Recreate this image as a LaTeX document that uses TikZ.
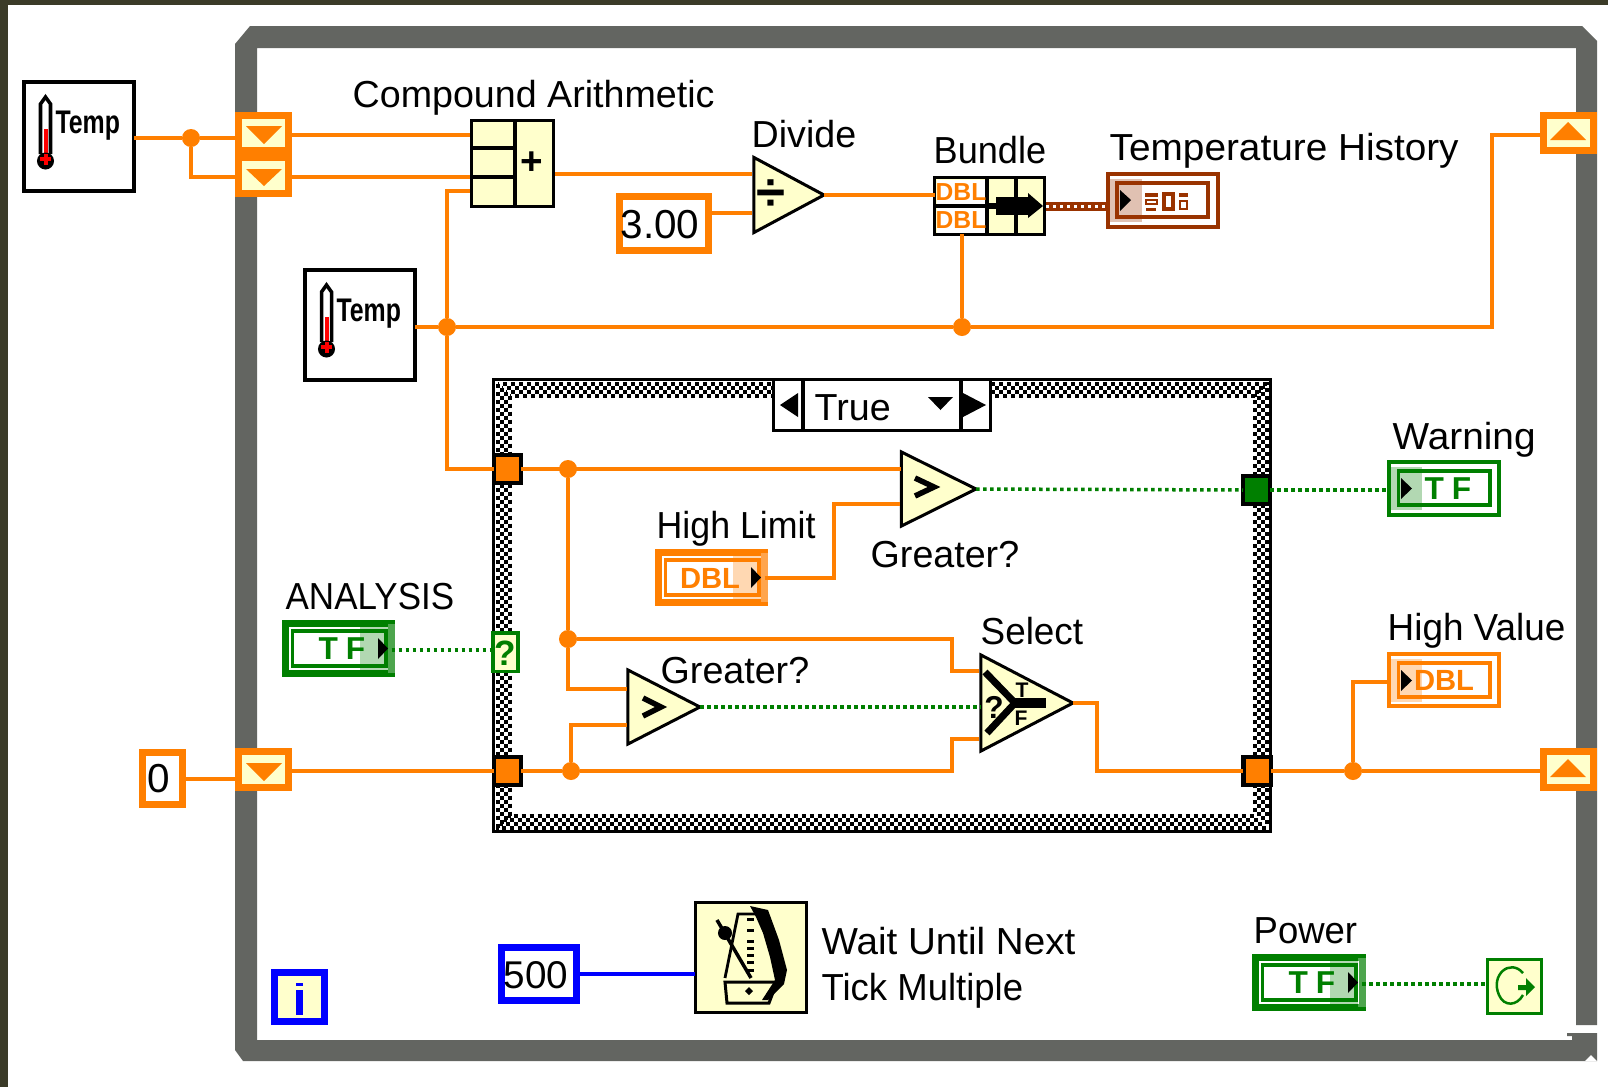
\documentclass[tikz,border=0pt]{standalone}
\usepackage{fontspec}
\setmainfont{Liberation Sans}
\usetikzlibrary{shapes.geometric}
\definecolor{lvorange}{rgb}{1.0, 0.498, 0}
\definecolor{lvgreen}{rgb}{0, 0.498, 0}
\definecolor{lvblue}{rgb}{0, 0, 1.0}
\definecolor{lvcream}{rgb}{1.0, 1.0, 0.8}
\definecolor{lvbrown}{rgb}{0.6, 0.2, 0}
\definecolor{lvframe}{rgb}{0.388, 0.396, 0.380}
\definecolor{lvolive}{rgb}{0.231, 0.231, 0.157}
\tikzset{wire/.style={line width=.04cm, color=lvorange}}
\tikzset{boolwire/.style={line width=.035cm, color=lvgreen, dash pattern=on .035cm off .035cm}}
\tikzset{blockbox/.style={draw, line width=.035cm, fill=lvcream, inner sep=0pt, outer sep=0pt}}
\tikzset{whitebox/.style={draw, line width=.04cm, fill=white, inner sep=0pt, outer sep=0pt}}
\tikzset{thickbox/.style={draw, line width=.07cm, fill=white, inner sep=0pt, outer sep=0pt}}
\tikzset{regbox/.style={draw=lvorange, line width=.07cm, fill=lvcream, inner sep=0pt, outer sep=0pt}}
\tikzset{tunnel/.style={draw, line width=.04cm, fill=lvorange, inner sep=0pt, outer sep=0pt, minimum width=.27cm, minimum height=.28cm}}
\tikzset{junction/.style={circle, fill=lvorange, inner sep=0pt, outer sep=0pt, minimum size=.18cm}}
\tikzset{prim/.style={isosceles triangle, isosceles triangle stretches, draw, line width=.03cm, fill=lvcream, inner sep=0pt, outer sep=0pt, anchor=apex}}
\tikzset{inrect/.style={line width=.035cm}}
\tikzset{checker/.style={line width=.04cm, dash pattern=on .04cm off .04cm}}
\tikzset{lbl/.style={anchor=base west, inner sep=0pt, transform shape, font=\fontsize{10.7}{12}\selectfont}}
\tikzset{templbl/.style={anchor=base west, inner sep=0pt, xscale=.76, transform shape, font=\bfseries\fontsize{9.3}{11}\selectfont}}
\tikzset{tagtext/.style={inner sep=0pt, font=\bfseries\fontsize{8.3}{10}\selectfont}}

\begin{document}
\begin{tikzpicture}[x=0.01cm, y=-0.01cm]%{{{
        \useasboundingbox (0, 0) rectangle (1608, 1087);
        \fill[white] (0, 0) rectangle (1608, 1087);
        \fill[lvolive] (0, 0) rectangle (1608, 5);
        \fill[lvolive] (0, 0) rectangle (8, 1087);

        % while loop frame
        \fill[lvframe] (250, 26) -- (1582, 26) -- (1597, 41) -- (1597, 1025) -- (1576, 1025) -- (1576, 48)
            -- (257, 48) -- (257, 1040) -- (1572, 1040) -- (1572, 1036) -- (1567, 1036) -- (1567, 1033) -- (1597, 1033)
            -- (1597, 1061) -- (243, 1061) -- (235, 1050) -- (235, 44) -- cycle;
        \fill[white] (1585, 1061) -- (1591, 1055) -- (1597, 1061) -- cycle;

        % case structure
        \draw[checker] (497.5, 383.5) rectangle (1266.5, 827.5);
        \draw[checker] (501.5, 387.5) rectangle (1262.5, 823.5);
        \draw[checker] (505.5, 391.5) rectangle (1258.5, 819.5);
        \draw[checker] (509.5, 395.5) rectangle (1254.5, 815.5);
        \node[draw, line width=.035cm, inner sep=0pt, outer sep=0pt, minimum width=7.765cm, minimum height=4.515cm] (Case) at (882, 605.5) {};
        \node[whitebox, line width=.035cm, minimum width=2.165cm, minimum height=.505cm] (Sel) at (882, 405) {};
        \draw[line width=.035cm] (803, 378) -- (803, 432);
        \draw[line width=.035cm] (961, 378) -- (961, 432);
        \fill (780, 405) -- (798, 393) -- (798, 417) -- cycle;
        \fill (986, 405) -- (963, 393) -- (963, 417) -- cycle;
        \fill (928, 397) -- (953, 397) -- (940.5, 410) -- cycle;
        \node[lbl] (TrueL) at (814, 420) {True};

        % wire ports and bends
        \coordinate (Pa) at (470, 135);
        \coordinate (Pb) at (470, 177);
        \coordinate (Pc) at (470, 191);
        \coordinate (Pd) at (555, 174);
        \coordinate (Pe) at (752, 174);
        \coordinate (Pf) at (752, 213);
        \coordinate (Qa) at (1492, 327);
        \coordinate (Qb) at (1492, 135);
        \coordinate (Ra) at (834, 504);
        \coordinate (Rb) at (900, 504);
        \coordinate (Rc) at (568, 689);
        \coordinate (Rd) at (626.6, 689);
        \coordinate (Re) at (626.6, 725);
        \coordinate (Rf) at (571, 725);
        \coordinate (Ua) at (951.5, 639);
        \coordinate (Ub) at (951.5, 671);
        \coordinate (Uc) at (979, 671);
        \coordinate (Ud) at (951.5, 771);
        \coordinate (Ue) at (951.5, 739);
        \coordinate (Uf) at (979, 739);
        \coordinate (Ug) at (1097, 703);
        \coordinate (Uh) at (1097, 771);
        \coordinate (Va) at (1353, 682);
        \coordinate (Wa) at (1046, 206);
        \coordinate (Wb) at (1106, 206);
        \coordinate (Ya) at (395, 650);
        \coordinate (Yb) at (1366, 984);

        \node[junction] (Ja) at (191, 138) {};
        \node[junction] (Jb) at (447, 327) {};
        \node[junction] (Jc) at (962, 327) {};
        \node[junction] (Jd) at (568, 469) {};
        \node[junction] (Je) at (568, 639) {};
        \node[junction] (Jf) at (571, 771) {};
        \node[junction] (Jg) at (1353, 771) {};

        % terminals on the loop frame
        \node[regbox, minimum width=.50cm, minimum height=.35cm] (Sa) at (263.5, 133) {};
        \node[regbox, minimum width=.50cm, minimum height=.36cm] (Sb) at (263.5, 175.5) {};
        \node[regbox, minimum width=.50cm, minimum height=.36cm] (Sd) at (263.5, 769.5) {};
        \node[regbox, minimum width=.50cm, minimum height=.35cm] (Sc) at (1568.5, 133) {};
        \node[regbox, minimum width=.50cm, minimum height=.36cm] (Sf) at (1568.5, 769.5) {};
        \fill[lvorange] (246, 126) -- (282, 126) -- (264, 144) -- cycle;
        \fill[lvorange] (246, 169) -- (282, 169) -- (264, 186) -- cycle;
        \fill[lvorange] (246, 763) -- (282, 763) -- (264, 781) -- cycle;
        \fill[lvorange] (1550, 140) -- (1586, 140) -- (1568, 122) -- cycle;
        \fill[lvorange] (1550, 777) -- (1586, 777) -- (1568, 759) -- cycle;

        % temperature terminals
        \node[whitebox, minimum width=1.10cm, minimum height=1.09cm] (Ta) at (79, 136.5) {};
        \node[whitebox, minimum width=1.10cm, minimum height=1.10cm] (Tb) at (360, 325) {};
        \draw[line width=.035cm, fill=white] (40.5, 154) -- (40.5, 104) -- (45.5, 97) -- (50.5, 104) -- (50.5, 154);
        \fill[red] (43.5, 129) rectangle (48, 160);
        \fill (45.5, 161) circle (.085cm);
        \fill[red] (43.5, 154) rectangle (48, 165);
        \fill[red] (40, 157) rectangle (51, 161);
        \draw[line width=.035cm, fill=white] (321.5, 342) -- (321.5, 292) -- (326.5, 285) -- (331.5, 292) -- (331.5, 342);
        \fill[red] (324.5, 317) rectangle (329, 348);
        \fill (326.5, 349) circle (.085cm);
        \fill[red] (324.5, 342) rectangle (329, 353);
        \fill[red] (321, 345) rectangle (332, 349);
        \node[templbl] (TempA) at (55, 133) {Temp};
        \node[templbl] (TempB) at (336, 321) {Temp};

        % arithmetic blocks
        \node[blockbox, minimum width=.815cm, minimum height=.855cm] (Cmp) at (512.5, 163.5) {};
        \draw[line width=.035cm] (515, 119) -- (515, 208);
        \draw[line width=.035cm] (470, 148) -- (515, 148);
        \draw[line width=.035cm] (470, 177) -- (515, 177);
        \node[inner sep=0pt, font=\bfseries\fontsize{11}{12}\selectfont] (Pls) at (532, 163) {+};
        \node[prim, minimum width=.75cm, minimum height=.70cm] (Dv) at (824, 195) {};
        \node[inner sep=0pt, font=\bfseries\fontsize{15}{15}\selectfont] (DvS) at (771, 195) {÷};
        \node[thickbox, draw=lvorange, minimum width=.89cm, minimum height=.54cm] (Cth) at (664, 223.5) {};
        \node[inner sep=0pt, font=\fontsize{11.5}{12}\selectfont] (CthL) at (660, 225) {3.00};

        % bundle
        \node[blockbox, minimum width=1.095cm, minimum height=.565cm] (Bu) at (989.5, 206) {};
        \fill[white] (937, 180) rectangle (985, 204);
        \fill[white] (937, 208) rectangle (985, 232.5);
        \draw[line width=.035cm] (933, 206) -- (987, 206);
        \draw[line width=.035cm] (987, 176) -- (987, 236);
        \draw[line width=.035cm] (1016, 176) -- (1016, 236);
        \node[tagtext, text=lvorange, font=\bfseries\fontsize{7}{8}\selectfont] (BuA) at (961, 192) {DBL};
        \node[tagtext, text=lvorange, font=\bfseries\fontsize{7}{8}\selectfont] (BuB) at (961, 220) {DBL};
        \fill (986, 203) rectangle (996, 209);
        \fill (996, 197) rectangle (1028, 215);
        \fill (1028, 193) -- (1043, 206) -- (1028, 218) -- cycle;

        % temperature history
        \node[whitebox, draw=lvbrown, minimum width=1.10cm, minimum height=.53cm] (Th) at (1163, 200.5) {};
        \draw[inrect, draw=lvbrown] (1117, 183) rectangle (1208, 217);
        \fill[lvbrown, opacity=.3] (1106, 179) rectangle (1142, 222);
        \fill (1120, 190) -- (1131, 200) -- (1120, 211) -- cycle;
        \fill[lvbrown] (1145, 193) rectangle (1158, 197);
        \draw[line width=.025cm, lvbrown] (1146, 200) rectangle (1157, 204);
        \fill[lvbrown] (1146, 208) rectangle (1156, 211);
        \draw[line width=.035cm, lvbrown] (1164, 194) rectangle (1173, 209);
        \fill[lvbrown] (1179, 193) rectangle (1188, 197);
        \draw[line width=.025cm, lvbrown] (1180, 201) rectangle (1187, 209);

        % case tunnels
        \node[tunnel] (Tua) at (507.5, 468.5) {};
        \node[tunnel] (Tub) at (507.5, 771) {};
        \node[tunnel] (Tuc) at (1257, 771) {};
        \node[tunnel, fill=lvgreen] (Tug) at (1256.5, 490) {};
        \node[blockbox, draw=lvgreen, minimum width=.245cm, minimum height=.385cm] (Qu) at (505.5, 652) {};
        \node[tagtext, text=lvgreen, font=\bfseries\fontsize{10}{10}\selectfont] (QuL) at (505.5, 653) {?};

        % boolean wires run under the comparison blocks
        \node[prim, minimum width=.74cm, minimum height=.745cm] (Ga) at (976, 489) {};
        \draw[line width=.055cm] (915, 478) -- (934, 487) -- (915, 496);
        \node[prim, minimum width=.74cm, minimum height=.72cm] (Gb) at (700, 707) {};
        \draw[line width=.055cm] (643, 698) -- (661, 707) -- (643, 716);
        \node[prim, minimum width=.96cm, minimum height=.92cm] (Se) at (1073, 703) {};
        \draw [boolwire] (Gb.apex) -- (Se.lower side |- Gb.apex);
        \draw[line width=.07cm] (985, 672) -- (1015, 703) -- (987, 733);
        \draw[line width=.1cm] (1015, 703) -- (1046, 703);
        \node[inner sep=0pt, font=\bfseries\fontsize{9}{9}\selectfont] (SeQ) at (994, 707) {?};
        \node[inner sep=0pt, font=\bfseries\fontsize{6}{6}\selectfont] (SeT) at (1022, 690) {T};
        \node[inner sep=0pt, font=\bfseries\fontsize{6}{6}\selectfont] (SeF) at (1021, 718) {F};

        % boolean and numeric terminals
        \node[thickbox, draw=lvgreen, minimum width=1.06cm, minimum height=.50cm] (An) at (338.5, 648.5) {};
        \draw[inrect, draw=lvgreen] (292.5, 631) rectangle (386, 666);
        \node[tagtext, text=lvgreen, font=\bfseries\fontsize{9}{10}\selectfont] (AnL) at (342, 649) {T\hspace{.08cm}F};
        \fill[lvgreen, opacity=.3] (360, 627) rectangle (388, 670);
        \fill[white, opacity=.3] (388, 624) rectangle (395, 673);
        \fill (378, 638) -- (388, 648.5) -- (378, 659) -- cycle;

        \node[thickbox, draw=lvgreen, minimum width=1.06cm, minimum height=.50cm] (Pw) at (1309, 982.5) {};
        \draw[inrect, draw=lvgreen] (1262.5, 965) rectangle (1356, 1000);
        \node[tagtext, text=lvgreen, font=\bfseries\fontsize{9}{10}\selectfont] (PwL) at (1312, 983) {T\hspace{.08cm}F};
        \fill[lvgreen, opacity=.3] (1330, 961) rectangle (1358, 1004);
        \fill[white, opacity=.3] (1358, 958) rectangle (1366, 1007);
        \fill (1348, 972) -- (1358, 982.5) -- (1348, 993) -- cycle;

        \node[thickbox, draw=lvorange, minimum width=1.06cm, minimum height=.50cm] (Hl) at (711.5, 577.5) {};
        \draw[inrect, draw=lvorange] (665.5, 560) rectangle (759, 595);
        \node[tagtext, text=lvorange] (HlL) at (710, 578) {DBL};
        \fill[lvorange, opacity=.3] (733, 556) rectangle (761, 599);
        \fill[white, opacity=.3] (761, 553) rectangle (768, 602);
        \fill (751, 567) -- (761, 577.5) -- (751, 588) -- cycle;

        \node[whitebox, draw=lvgreen, minimum width=1.10cm, minimum height=.53cm] (Wn) at (1444, 488.5) {};
        \draw[inrect, draw=lvgreen] (1398.5, 471) rectangle (1490, 505);
        \node[tagtext, text=lvgreen, font=\bfseries\fontsize{9}{10}\selectfont] (WnL) at (1448, 489) {T\hspace{.08cm}F};
        \fill[lvgreen, opacity=.3] (1390, 467) rectangle (1422, 510);
        \fill (1401, 478) -- (1412, 488.5) -- (1401, 499) -- cycle;

        \node[whitebox, draw=lvorange, minimum width=1.10cm, minimum height=.52cm] (Hv) at (1444, 680) {};
        \draw[inrect, draw=lvorange] (1398.5, 663) rectangle (1490, 697);
        \node[tagtext, text=lvorange] (HvL) at (1444, 680) {DBL};
        \fill[lvorange, opacity=.3] (1390, 659) rectangle (1422, 702);
        \fill (1401, 670) -- (1412, 680.5) -- (1401, 691) -- cycle;

        \node[thickbox, draw=lvorange, minimum width=.40cm, minimum height=.52cm] (Cz) at (162.5, 778.5) {};
        \node[inner sep=0pt, font=\fontsize{11.5}{12}\selectfont] (CzL) at (159, 779) {0};
        \node[thickbox, draw=lvblue, minimum width=.75cm, minimum height=.53cm] (Cf) at (539, 974) {};
        \node[inner sep=0pt, font=\fontsize{11}{12}\selectfont] (CfL) at (536, 975) {500};
        \node[thickbox, draw=lvblue, fill=lvcream, minimum width=.50cm, minimum height=.49cm] (Li) at (299.5, 997) {};
        \fill[lvblue] (296, 983) rectangle (303, 986);
        \fill[lvblue] (296, 990) rectangle (303, 1015);
        \node[blockbox, draw=lvgreen, minimum width=.535cm, minimum height=.535cm] (St) at (1514.5, 986.5) {};
        \draw[line width=.025cm, lvgreen] (1523, 973) .. controls (1510, 958) and (1490, 975) .. (1499, 995) .. controls (1504, 1007) and (1517, 1006) .. (1523, 995);
        \fill[lvgreen] (1526, 978) -- (1535, 987) -- (1526, 996) -- (1526, 990) -- (1518, 990) -- (1518, 985) -- (1526, 985) -- cycle;

        % metronome
        \node[blockbox, line width=.03cm, minimum width=1.11cm, minimum height=1.10cm] (Me) at (751, 957.5) {};
        \draw[line width=.028cm] (725, 978) -- (738, 914) -- (768, 914);
        \fill (750, 906) -- (768, 910) -- (779, 940) -- (787, 970) -- (784, 984) -- (768, 1000) -- (762, 1000) -- (775, 980) -- (770, 957) -- (763, 933) -- (756, 917) -- cycle;
        \draw[line width=.03cm] (725, 982) -- (777, 982) -- (769, 1003) -- (727, 1003) -- cycle;
        \fill (749, 987) -- (753, 991) -- (749, 995) -- (745, 991) -- cycle;
        \draw[line width=.035cm] (751, 978) -- (717, 920);
        \fill (725, 933) circle (.07cm);
        \fill (747, 918) rectangle (754, 921);
        \fill (747, 929) rectangle (754, 932);
        \fill (747, 940) rectangle (754, 943);
        \fill (747, 947) rectangle (754, 950);
        \fill (747, 954) rectangle (754, 957);
        \fill (747, 961) rectangle (754, 964);
        \fill (747, 969) rectangle (754, 972);

        % orange wires
        \draw [wire] (Ta.east |- Ja) -- (Ja);
        \draw [wire] (Ja) -- (Sa.west |- Ja);
        \draw [wire] (Ja) |- (Sb.west |- Pb);
        \draw [wire] (Sa.east |- Pa) -- (Pa);
        \draw [wire] (Sb.east |- Pb) -- (Pb);
        \draw [wire] (Pc) -| (Jb);
        \draw [wire] (Tb.east |- Jb) -- (Jb);
        \draw [wire] (Jb) -- (Jc);
        \draw [wire] (Jc) -- (Qa) -- (Qb) -- (Sc.west |- Qb);
        \draw [wire] (Jc) -- (Bu.south -| Jc);
        \draw [wire] (Pd) -- (Pe);
        \draw [wire] (Cth.east |- Pf) -- (Pf);
        \draw [wire] (Dv.apex) -- (Bu.west |- Dv.apex);
        \draw [wire] (Jb) |- (Tua.west);
        \draw [wire] (Tua.east) -- (Ga.lower side |- Tua);
        \draw [wire] (Jd) -- (Je);
        \draw [wire] (Je) -- (Rc) -- (Rd);
        \draw [wire] (Je) -- (Ua) -- (Ub) -- (Uc);
        \draw [wire] (Hl.east) -| (Ra) -- (Rb);
        \draw [wire] (Sd.east |- Tub) -- (Tub.west);
        \draw [wire] (Cz.east) -- (Sd.west |- Cz);
        \draw [wire] (Tub.east) -- (Jf);
        \draw [wire] (Jf) -- (Rf) -- (Re);
        \draw [wire] (Jf) -- (Ud) -- (Ue) -- (Uf);
        \draw [wire] (Se.apex) -- (Ug) -- (Uh) -- (Tuc.west);
        \draw [wire] (Tuc.east) -- (Jg);
        \draw [wire] (Jg) -- (Sf.west |- Jg);
        \draw [wire] (Jg) -- (Va) -- (Hv.west |- Va);

        % other wires
        \draw [wire, color=lvblue] (Cf.east) -- (Me.west |- Cf);
        \draw [line width=.09cm, color=lvbrown] (Wa) -- (Wb);
        \draw [line width=.03cm, color=white, dash pattern=on .03cm off .04cm] (Wa) -- (Wb);
        \draw [boolwire] (An.east |- Ya) -- (Qu.west |- Ya);
        \draw [boolwire] (Ga.apex) -- (Tug.west);
        \draw [boolwire] (Tug.east) -- (Wn.west |- Tug);
        \draw [boolwire] (Pw.east |- Yb) -- (St.west |- Yb);

        % labels
        \node[lbl] (LCmp) at (352, 107) {Compound Arithmetic};
        \node[lbl] (LDv) at (751, 147) {Divide};
        \node[lbl, xscale=.96] (LBu) at (933, 163) {Bundle};
        \node[lbl, xscale=1.03] (LTh) at (1109, 160) {Temperature History};
        \node[lbl, xscale=1.03] (LWn) at (1392, 449) {Warning};
        \node[lbl, xscale=.98] (LHv) at (1387, 640) {High Value};
        \node[lbl, xscale=.95] (LHl) at (656, 538) {High Limit};
        \node[lbl] (LGa) at (870, 567) {Greater?};
        \node[lbl] (LGb) at (660, 683) {Greater?};
        \node[lbl, xscale=.93] (LAn) at (285, 609) {ANALYSIS};
        \node[lbl, xscale=.98] (LSe) at (980, 644) {Select};
        \node[lbl, xscale=.97] (LPw) at (1253, 943) {Power};
        \node[lbl, xscale=1.025] (LWa) at (821, 954) {Wait Until Next};
        \node[lbl, xscale=.97] (LWb) at (821, 1000) {Tick Multiple};

    \end{tikzpicture}
\end{document}
